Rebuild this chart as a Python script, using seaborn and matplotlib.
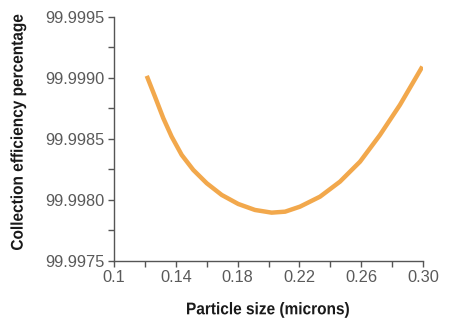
import matplotlib
matplotlib.use("Agg")
import matplotlib.pyplot as plt
from matplotlib.ticker import MultipleLocator, FixedLocator
from matplotlib import patheffects
from matplotlib.transforms import Affine2D
import seaborn as sns
import pandas as pd

# Particle size (microns) and collection efficiency (%)
particle_size = [0.1212, 0.1265, 0.1319, 0.1373, 0.1438, 0.1513, 0.1600,
                 0.1697, 0.1804, 0.1912, 0.2020, 0.2107, 0.2203, 0.2333,
                 0.2462, 0.2592, 0.2721, 0.2850, 0.2995]
efficiency = [99.999017, 99.998847, 99.998670, 99.998519, 99.998369, 99.998246,
              99.998137, 99.998041, 99.997967, 99.997918, 99.997896, 99.997904,
              99.997945, 99.998027, 99.998150, 99.998314, 99.998533, 99.998779,
              99.999093]

x_ticks = [0.10, 0.14, 0.18, 0.22, 0.26, 0.30]
x_tick_labels = ["0.1", "0.14", "0.18", "0.22", "0.26", "0.30"]
y_ticks = [99.9975, 99.9980, 99.9985, 99.9990, 99.9995]
y_tick_labels = ["99.9975", "99.9980", "99.9985", "99.9990", "99.9995"]


class Condense(patheffects.AbstractPathEffect):
    """Narrow the glyph outlines horizontally around the text's centre."""

    def __init__(self, sx):
        super().__init__()
        self.sx = sx

    def draw_path(self, renderer, gc, tpath, affine, rgbFace=None):
        ext = tpath.get_extents()
        cx = 0.5 * (ext.x0 + ext.x1)
        squeeze = Affine2D().translate(-cx, 0).scale(self.sx, 1).translate(cx, 0)
        renderer.draw_path(gc, tpath, squeeze + affine, rgbFace)


sns.set_style("white")
plt.rcParams["font.family"] = ["Liberation Sans", "DejaVu Sans"]

df = pd.DataFrame({"size": particle_size, "eff": efficiency})

fig = plt.figure(figsize=(4.5, 3.25), dpi=100)
ax = fig.add_axes([0.2533, 0.197, 0.687, 0.751])

sns.lineplot(data=df, x="size", y="eff", ax=ax, color="#F2A84C", linewidth=3.2,
             solid_capstyle="butt", solid_joinstyle="round")

ax.set_xlim(0.1, 0.30)
ax.set_ylim(99.9975, 99.9995)
ax.set_xticks(x_ticks)
ax.set_xticklabels(x_tick_labels)
ax.set_yticks(y_ticks)
ax.set_yticklabels(y_tick_labels)
ax.xaxis.set_minor_locator(MultipleLocator(0.02))
ax.yaxis.set_minor_locator(FixedLocator([99.99775, 99.99825, 99.99875, 99.99925]))

for side in ("top", "right"):
    ax.spines[side].set_visible(False)
for side in ("left", "bottom"):
    ax.spines[side].set_color("#555555")
    ax.spines[side].set_linewidth(1.0)

ax.tick_params(which="both", direction="out", length=4.5, width=1.0,
               color="#555555", labelcolor="#5a5a5a", labelsize=11.8,
               bottom=True, left=True)
ax.tick_params(axis="x", pad=2)
ax.tick_params(axis="y", pad=2)

label_kw = dict(fontsize=12.2, fontweight="bold", color="#1a1a1a",
                path_effects=[Condense(0.91)])

ax.set_xlabel("Particle size (microns)", **label_kw)
ax.set_ylabel("Collection efficiency percentage", **label_kw)
ax.xaxis.label.set_va("center")
ax.yaxis.label.set_va("center")
ax.xaxis.set_label_coords(0.497, -0.20)
ax.yaxis.set_label_coords(-0.310, 0.525)

fig.savefig("out.png", dpi=100)
